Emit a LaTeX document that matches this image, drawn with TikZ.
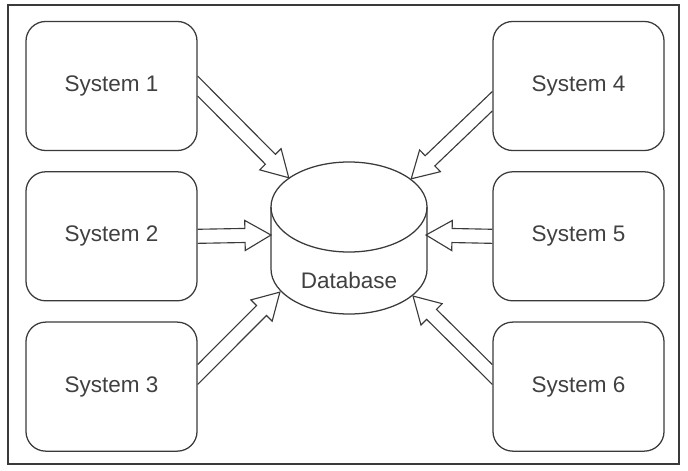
\documentclass[tikz,border=0pt]{standalone}
\usepackage{fontspec}
\setmainfont{Liberation Sans}
\usetikzlibrary{calc, positioning}

\definecolor{linegray}{HTML}{3A3A3A}
\definecolor{textgray}{HTML}{404040}

\tikzset{
  system/.style={draw=linegray, line width=0.9pt, rounded corners=14pt,
    minimum width=4.275cm, minimum height=3.225cm, text=textgray,
    font=\fontsize{16}{19}\selectfont},
  fatline/.style={draw=linegray, line width=0.8pt, line join=miter},
}

% hollow double-line arrow from #1 (on a vertical edge) to #2
\newcommand\fatarrow[2]{%
  \draw[fatline] let \p1=($(#2)-(#1)$), \n1={atan2(\y1,\x1)}, \n2={veclen(\x1,\y1)},
      \n3={5*tan(\n1)} in
    [shift={(#1)}, rotate=\n1]
    ({\n3*1pt},5pt) -- ({\n2*1pt-18.5pt},5pt) -- ({\n2*1pt-18.5pt},10.7pt) -- ({\n2*1pt},0pt)
    -- ({\n2*1pt-18.5pt},-10.7pt) -- ({\n2*1pt-18.5pt},-5pt) -- ({-\n3*1pt},-5pt);}

\begin{document}
\begin{tikzpicture}[x=0.025cm, y=0.025cm]
   \useasboundingbox (0,0) rectangle (688,470);
   \draw[linegray, line width=0.8pt] (8,6) rectangle (679,465);

   % systems
   \node[system] (s1) at (111.5,384) {System 1};
   \node[system, below=0.5cm of s1] (s2) {System 2};
   \node[system, below=0.5cm of s2] (s3) {System 3};
   \node[system] (s4) at (578.5,384) {System 4};
   \node[system, below=0.5cm of s4] (s5) {System 5};
   \node[system, below=0.5cm of s5] (s6) {System 6};

   % database
   \coordinate (dbtop) at (349,263);
   \coordinate (dbbot) at (349,201);
   \draw[linegray, line width=0.9pt] (dbtop) ellipse [x radius=1.95cm, y radius=1.125cm];
   \draw[linegray, line width=0.9pt] ($(dbtop)+(-78,0)$) -- ($(dbbot)+(-78,0)$)
      arc[start angle=180, end angle=360, x radius=1.95cm, y radius=1.125cm]
      -- ($(dbtop)+(78,0)$);
   \node[text=textgray, font=\fontsize{16}{19}\selectfont] (db) at (349,190) {Database};

   \coordinate (in1) at (289,292);
   \coordinate (in2) at (271,235);
   \coordinate (in3) at (280,178);
   \coordinate (in4) at (411,291);
   \coordinate (in5) at (426,235);
   \coordinate (in6) at (413,174);

   \fatarrow{s1.east}{in1}
   \fatarrow{s2.east}{in2}
   \fatarrow{s3.8}{in3}
   \fatarrow{s4.190}{in4}
   \fatarrow{s5.west}{in5}
   \fatarrow{s6.172}{in6}
\end{tikzpicture}
\end{document}
